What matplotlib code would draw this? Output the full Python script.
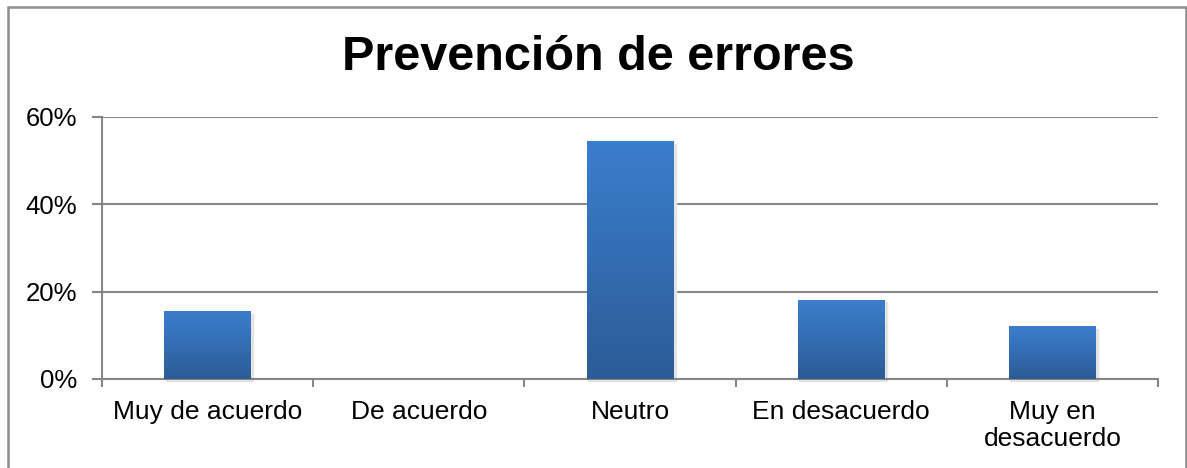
import numpy as np
import matplotlib
matplotlib.use('Agg')
import matplotlib.pyplot as plt
from matplotlib.patches import Rectangle
from matplotlib.ticker import FuncFormatter, MultipleLocator

# --------------------------------------------------
# data
# --------------------------------------------------
categories = ['Muy de acuerdo', 'De acuerdo', 'Neutro', 'En desacuerdo', 'Muy en\ndesacuerdo']
values = [0.155, 0.0, 0.545, 0.182, 0.121]
title = 'Prevención de errores'

plt.rcParams['font.family'] = ['Liberation Sans', 'DejaVu Sans']

W, H = 1187, 468
fig = plt.figure(figsize=(W / 100, H / 100), dpi=100)
ax = fig.add_axes([102 / W, 1 - 379 / H, (1158 - 102) / W, (379 - 117) / H])

x = np.arange(len(categories))
bars = ax.bar(x, values, width=0.41, color='#3672c0', zorder=3)

# vertical gradient inside each bar
grad = np.linspace(0, 1, 256).reshape(-1, 1)
cmap = matplotlib.colors.LinearSegmentedColormap.from_list('g', ['#2c5c97', '#3b7ecd'])
for b in bars:
    if b.get_height() <= 0:
        continue
    # faint shadow
    ax.add_patch(Rectangle((b.get_x() + 0.006, -0.004), b.get_width() + 0.006, b.get_height() - 0.002,
                           color='#e4e4e4', zorder=2, transform=ax.transData, clip_on=False))
    im = ax.imshow(grad, extent=[b.get_x(), b.get_x() + b.get_width(), 0, b.get_height()],
                   origin='lower', aspect='auto', cmap=cmap, zorder=4)
    im.set_clip_path(b)

ax.set_xlim(-0.5, len(categories) - 0.5)
ax.set_ylim(0, 0.6)
ax.yaxis.set_major_locator(MultipleLocator(0.2))
ax.yaxis.set_major_formatter(FuncFormatter(lambda v, p: '{:.0f}%'.format(v * 100)))
ax.grid(axis='y', color='#868686', linewidth=1.5, zorder=0)

ax.set_xticks(x)
ax.set_xticklabels(categories, fontsize=19, linespacing=1.15)
ax.set_xticks(np.arange(len(categories) + 1) - 0.5, minor=True)
ax.tick_params(axis='x', which='major', length=0, pad=15)
ax.tick_params(axis='x', which='minor', length=6, width=1.5, color='#868686')
ax.tick_params(axis='y', length=7, width=1.5, color='#868686', labelsize=18.5, pad=11)

for s in ['top', 'right']:
    ax.spines[s].set_visible(False)
for s in ['left', 'bottom']:
    ax.spines[s].set_color('#868686')
    ax.spines[s].set_linewidth(1.5)

fig.text(598 / W, 1 - 57 / H, title, ha='center', va='center', fontsize=35, fontweight='bold')

# chart border
fig.add_artist(Rectangle((8 / W, -0.1), (1186 - 8) / W, 1.1 - 7 / H, transform=fig.transFigure,
                         fill=False, edgecolor='#8c8c8c', linewidth=1.8))

fig.savefig('out.png', dpi=100)
